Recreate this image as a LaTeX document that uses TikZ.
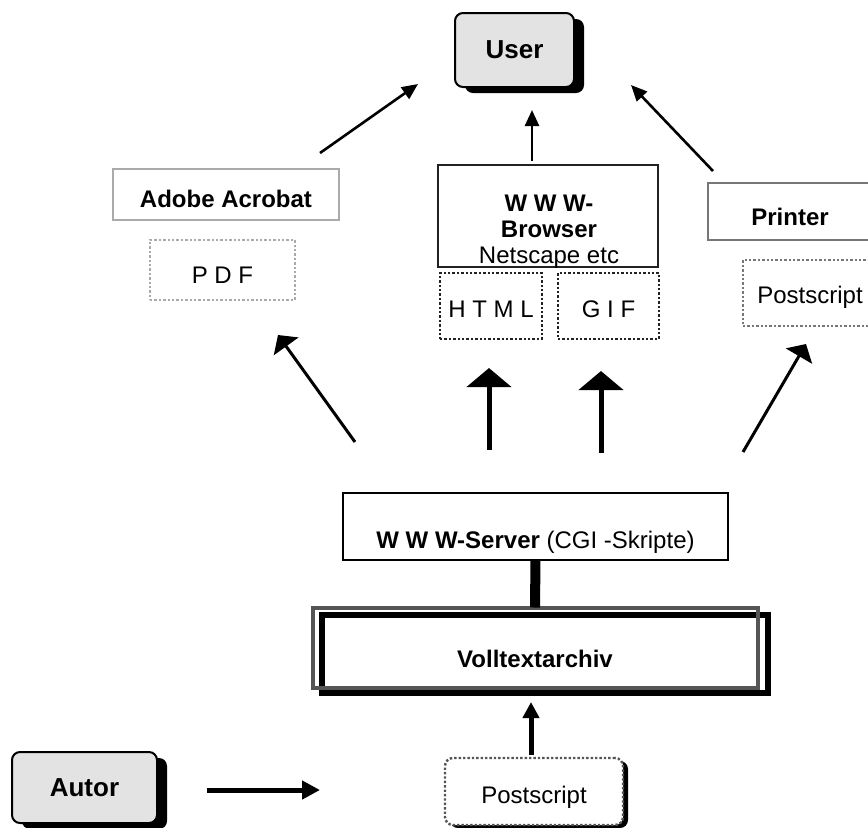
\documentclass[tikz,border=0pt]{standalone}
\usepackage{fontspec}
\setmainfont{Liberation Sans}
\usetikzlibrary{arrows.meta,shadows}
\definecolor{boxgray}{HTML}{E3E3E3}
\definecolor{lightline}{HTML}{AAAAAA}
\definecolor{midline}{HTML}{777777}
\definecolor{darkline}{HTML}{222222}
\definecolor{archline}{HTML}{555555}
\tikzset{
  every node/.style={inner sep=0pt,outer sep=0pt,font=\fontsize{12}{12.25}\selectfont},
  actor/.style={draw,line width=1pt,rounded corners=4pt,fill=boxgray,
    drop shadow={shadow xshift=5pt,shadow yshift=-3pt,fill=black,opacity=1},
    font=\fontsize{13}{15}\selectfont\bfseries},
  tool/.style={draw,line width=1pt,font=\fontsize{12}{14}\selectfont\bfseries},
  format/.style={draw,line width=1.2pt,dash pattern=on 1.2pt off 1pt},
  toarrow/.style={line width=1.3pt,-{Triangle[length=8pt,width=7pt]}},
  fromarrow/.style={line width=1.5pt,-{Triangle[length=7pt,width=15pt]}},
  fatarrow/.style={line width=2.5pt,-{Triangle[length=9.5pt,width=22pt]}}
}
\begin{document}
\begin{tikzpicture}[x=0.5pt,y=-0.5pt]
\useasboundingbox (0,0) rectangle (868,827);
\clip (0,0) rectangle (868,827);
% readers
\path (514.5,50) node[actor,minimum width=59.5pt,minimum height=37pt](user){User}
      (84.5,787.5) node[actor,minimum width=72.5pt,minimum height=35.5pt](autor){Autor};
% viewers and formats
\path (226,194.5) node[tool,draw=lightline,minimum width=113pt,minimum height=25.5pt,
        text height=13pt,text depth=0.5pt](acrobat){Adobe Acrobat}
      (222.5,270) node[format,draw=lightline,minimum width=72.5pt,minimum height=30pt,
        text height=13.5pt,text depth=0.5pt](pdf){P D F}
      (548,216) node[tool,draw=darkline,line width=1.2pt,minimum width=110pt,minimum height=51pt](browser){}
      (549,232) node[align=center,font=\fontsize{12}{13}\selectfont](browsertxt){\textbf{W W W-}\\\textbf{Browser}\\Netscape etc}
      (491,306) node[format,draw=darkline,minimum width=51pt,minimum height=33pt,
        text height=11.5pt,text depth=0.5pt](html){H T M L}
      (608.5,306) node[format,draw=darkline,minimum width=50.5pt,minimum height=33pt,
        text height=11.5pt,text depth=0.5pt](gif){G I F}
      (790,211.5) node[tool,draw=midline,minimum width=82pt,minimum height=28.5pt,
        text height=14pt,text depth=0.5pt](printer){Printer}
      (810,293) node[format,draw=midline,minimum width=67pt,minimum height=33pt,
        text height=12pt,text depth=2pt](psprint){Postscript};
% server and archive
\path (535.5,526.5) node[draw,line width=0.8pt,minimum width=192.5pt,minimum height=33.5pt,
        text height=23pt,text depth=1.5pt](server){\textbf{W W W-Server} (CGI -Skripte)}
      (544.75,653.75) node[draw,line width=3pt,minimum width=222.75pt,minimum height=38.75pt](archivback){}
      (535,647.5) node[draw=archline,line width=2pt,minimum width=222.5pt,minimum height=40pt,
        font=\fontsize{12}{14}\selectfont\bfseries,text height=20pt,text depth=0.5pt](archiv){Volltextarchiv}
      (534,791.5) node[format,draw=archline,rounded corners=4pt,fill=white,
        drop shadow={shadow xshift=2.5pt,shadow yshift=-1.5pt,fill=black,opacity=1},
        minimum width=89pt,minimum height=33.5pt,text height=13.5pt,text depth=2pt](post){Postscript};
\draw[line width=5pt] (server.south) -- (archiv.north);
% arrow ends
\coordinate (acrobatout) at (320,153);
\coordinate (userleft) at (418,84);
\coordinate (browserout) at (532,161);
\coordinate (userbottom) at (532,110);
\coordinate (printerout) at (713,171);
\coordinate (userright) at (631,85);
\coordinate (serverleft) at (355,442);
\coordinate (pdfin) at (278,335);
\coordinate (serverhtml) at (489,450);
\coordinate (htmlin) at (489,368);
\coordinate (servergif) at (601,453);
\coordinate (gifin) at (601,371);
\coordinate (serverright) at (743,452);
\coordinate (psin) at (806,344);
\coordinate (postout) at (531,755);
\coordinate (archivin) at (531,702);
\coordinate (autorout) at (207,790);
\coordinate (postin) at (320,790);
\draw[toarrow] (acrobatout) -- (userleft);
\draw[toarrow] (browserout) -- (userbottom);
\draw[toarrow] (printerout) -- (userright);
\draw[fromarrow] (serverleft) -- (pdfin);
\draw[fatarrow] (serverhtml) -- (htmlin);
\draw[fatarrow] (servergif) -- (gifin);
\draw[fromarrow] (serverright) -- (psin);
\draw[line width=2.5pt,-{Triangle[length=8pt,width=8pt]}] (postout) -- (archivin);
\draw[line width=2.5pt,-{Triangle[length=9pt,width=9pt]}] (autorout) -- (postin);
\end{tikzpicture}
\end{document}
